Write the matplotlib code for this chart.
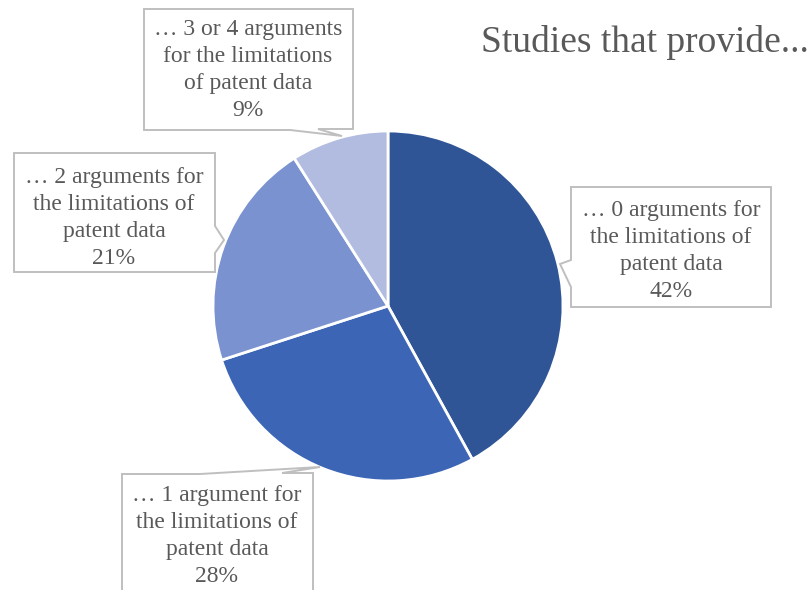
import matplotlib
matplotlib.use('Agg')
import matplotlib.pyplot as plt
from matplotlib.patches import Polygon

# share of studies by number of arguments given
labels = ['… 0 arguments for\nthe limitations of\npatent data',
          '… 1 argument for\nthe limitations of\npatent data',
          '… 2 arguments for\nthe limitations of\npatent data',
          '… 3 or 4 arguments\nfor the limitations\nof patent data']
shares = [42, 28, 21, 9]
colors = ['#2F5597', '#3C65B5', '#7A92D0', '#B1BCE0']
title = 'Studies that provide...'

W, H = 809, 590
plt.rcParams['font.family'] = ['Liberation Serif', 'DejaVu Serif']

fig = plt.figure(figsize=(W / 100, H / 100), dpi=100)
ax = fig.add_axes([0, 0, 1, 1])

def fy(y):
    # pixel row (top down) -> data y
    return H - y

ax.pie(shares, colors=colors, startangle=90, counterclock=False,
       center=(388, fy(306)), radius=175,
       wedgeprops=dict(edgecolor='white', linewidth=2))

# callout boxes: outline in pixel coords, text centre
callouts = [
    # 0 arguments
    ([(571, 187), (771, 187), (771, 307), (571, 307), (571, 287), (560, 264), (571, 260)], (671, 251)),
    # 1 argument
    ([(122, 474), (200, 474), (320, 467), (282, 473), (313, 473), (313, 610), (122, 610)], (217, 536)),
    # 2 arguments
    ([(14, 153), (215, 153), (215, 226), (224, 240), (215, 253), (215, 272), (14, 272)], (114, 218)),
    # 3 or 4 arguments
    ([(144, 9), (353, 9), (353, 129), (318, 129), (342, 136), (290, 130), (144, 130)], (248, 70)),
]
for (pts, (tx, ty)), lab, v in zip(callouts, labels, shares):
    ax.add_patch(Polygon([(x, fy(y)) for x, y in pts], closed=True,
                         facecolor='white', edgecolor='#BFBFBF', linewidth=1.4, zorder=3))
    ax.text(tx, fy(ty), f'{lab}\n{v}%', ha='center', va='center', fontsize=17,
            color='#595959', linespacing=1.38, zorder=4)

ax.text(481, fy(42), title, ha='left', va='center', fontsize=27, color='#595959')

ax.set_xlim(0, W)
ax.set_ylim(0, H)
ax.set_aspect('equal')
ax.axis('off')

fig.savefig('out.png', dpi=100)
